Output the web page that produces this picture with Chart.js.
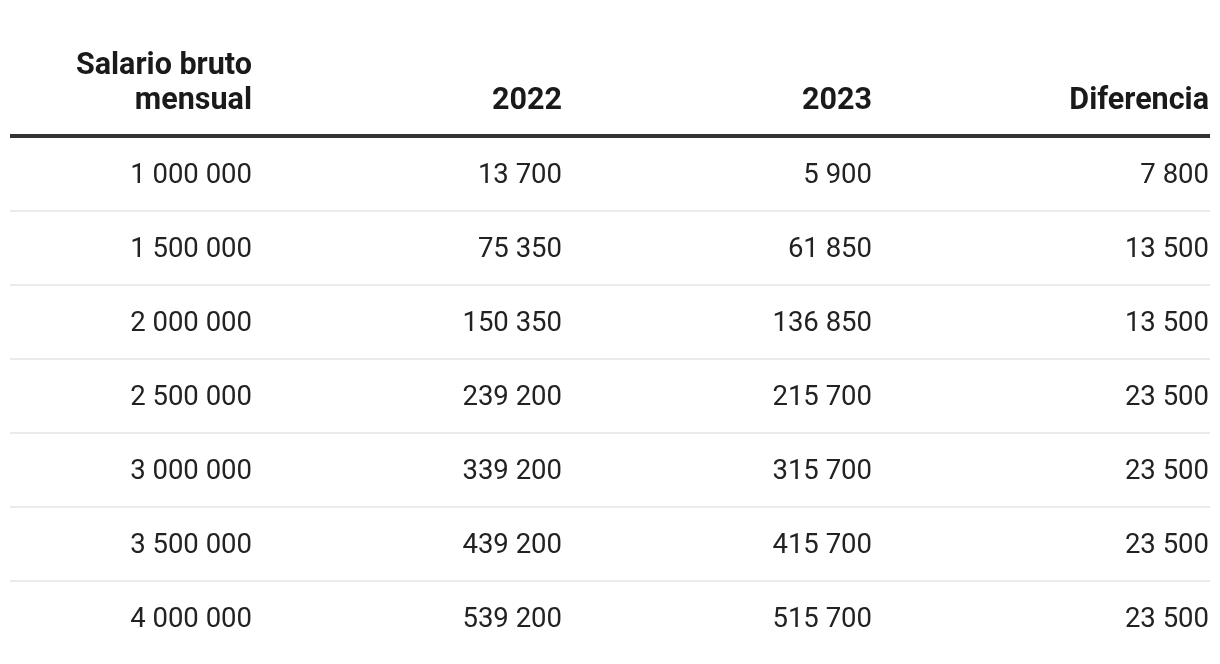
<!DOCTYPE html>
<html>
<head>
<meta charset="utf-8">
<script src="https://cdn.jsdelivr.net/npm/chart.js@4"></script>
<style>
  html, body { margin: 0; padding: 0; background: #fff; }
  #wrap { width: 1220px; height: 664px; }
</style>
</head>
<body>
<div id="wrap"><canvas id="tabla" width="1220" height="664"></canvas></div>
<script>
const columnas = ['Salario bruto\nmensual', '2022', '2023', 'Diferencia'];
const salario = [1000000, 1500000, 2000000, 2500000, 3000000, 3500000, 4000000];
const valores2022 = [13700, 75350, 150350, 239200, 339200, 439200, 539200];
const valores2023 = [5900, 61850, 136850, 215700, 315700, 415700, 515700];
const diferencia = [7800, 13500, 13500, 23500, 23500, 23500, 23500];

// right edge of each column, in x-scale units (chart area is 0..1200)
const anclaX = [242, 552, 862, 1199];

const filas = salario.map(String);
const fmt = v => String(v).replace(/\B(?=(\d{3})+(?!\d))/g, ' ');

const series = [salario, valores2022, valores2023, diferencia];
const datasets = series.map((vals, c) => ({
  label: columnas[c],
  data: vals.map((v, r) => ({ x: anclaX[c], y: filas[r], v: v })),
  pointRadius: 0,
  showLine: false
}));

const tablaPlugin = {
  id: 'tabla',
  afterDatasetsDraw(chart) {
    const ctx = chart.ctx;
    const area = chart.chartArea;
    const y = chart.scales.y;
    const x = chart.scales.x;
    const banda = y.getPixelForValue(1) - y.getPixelForValue(0);

    ctx.save();
    // row separators
    ctx.strokeStyle = '#ebebeb';
    ctx.lineWidth = 2;
    for (let r = 1; r < filas.length; r++) {
      const py = Math.round(y.getPixelForValue(r) - banda / 2);
      ctx.beginPath();
      ctx.moveTo(area.left, py);
      ctx.lineTo(area.right, py);
      ctx.stroke();
    }
    // header rule
    ctx.strokeStyle = '#333';
    ctx.lineWidth = 4;
    ctx.beginPath();
    ctx.moveTo(area.left, area.top - 1);
    ctx.lineTo(area.right, area.top - 1);
    ctx.stroke();

    // header text
    ctx.fillStyle = '#1a1a1a';
    ctx.font = 'bold 30.5px Roboto';
    ctx.textAlign = 'right';
    ctx.textBaseline = 'middle';
    columnas.forEach((t, c) => {
      const px = x.getPixelForValue(anclaX[c]);
      const lineas = t.split('\n');
      lineas.forEach((l, i) => {
        ctx.fillText(l, px, area.top - 36 - (lineas.length - 1 - i) * 35);
      });
    });

    // cells
    ctx.font = '27.5px Roboto';
    ctx.fillStyle = '#222';
    chart.data.datasets.forEach((ds, c) => {
      const meta = chart.getDatasetMeta(c);
      meta.data.forEach((pt, r) => {
        ctx.fillText(fmt(ds.data[r].v), pt.x, pt.y + 2);
      });
    });
    ctx.restore();
  }
};

new Chart(document.getElementById('tabla'), {
  type: 'scatter',
  data: { datasets: datasets },
  options: {
    responsive: false,
    animation: false,
    layout: { padding: { left: 10, right: 10, top: 137, bottom: 9 } },
    scales: {
      x: { type: 'linear', min: 0, max: 1200, display: false },
      y: { type: 'category', labels: filas, offset: true, display: false }
    },
    plugins: {
      legend: { display: false },
      tooltip: { enabled: false }
    }
  },
  plugins: [tablaPlugin]
});
</script>
</body>
</html>
